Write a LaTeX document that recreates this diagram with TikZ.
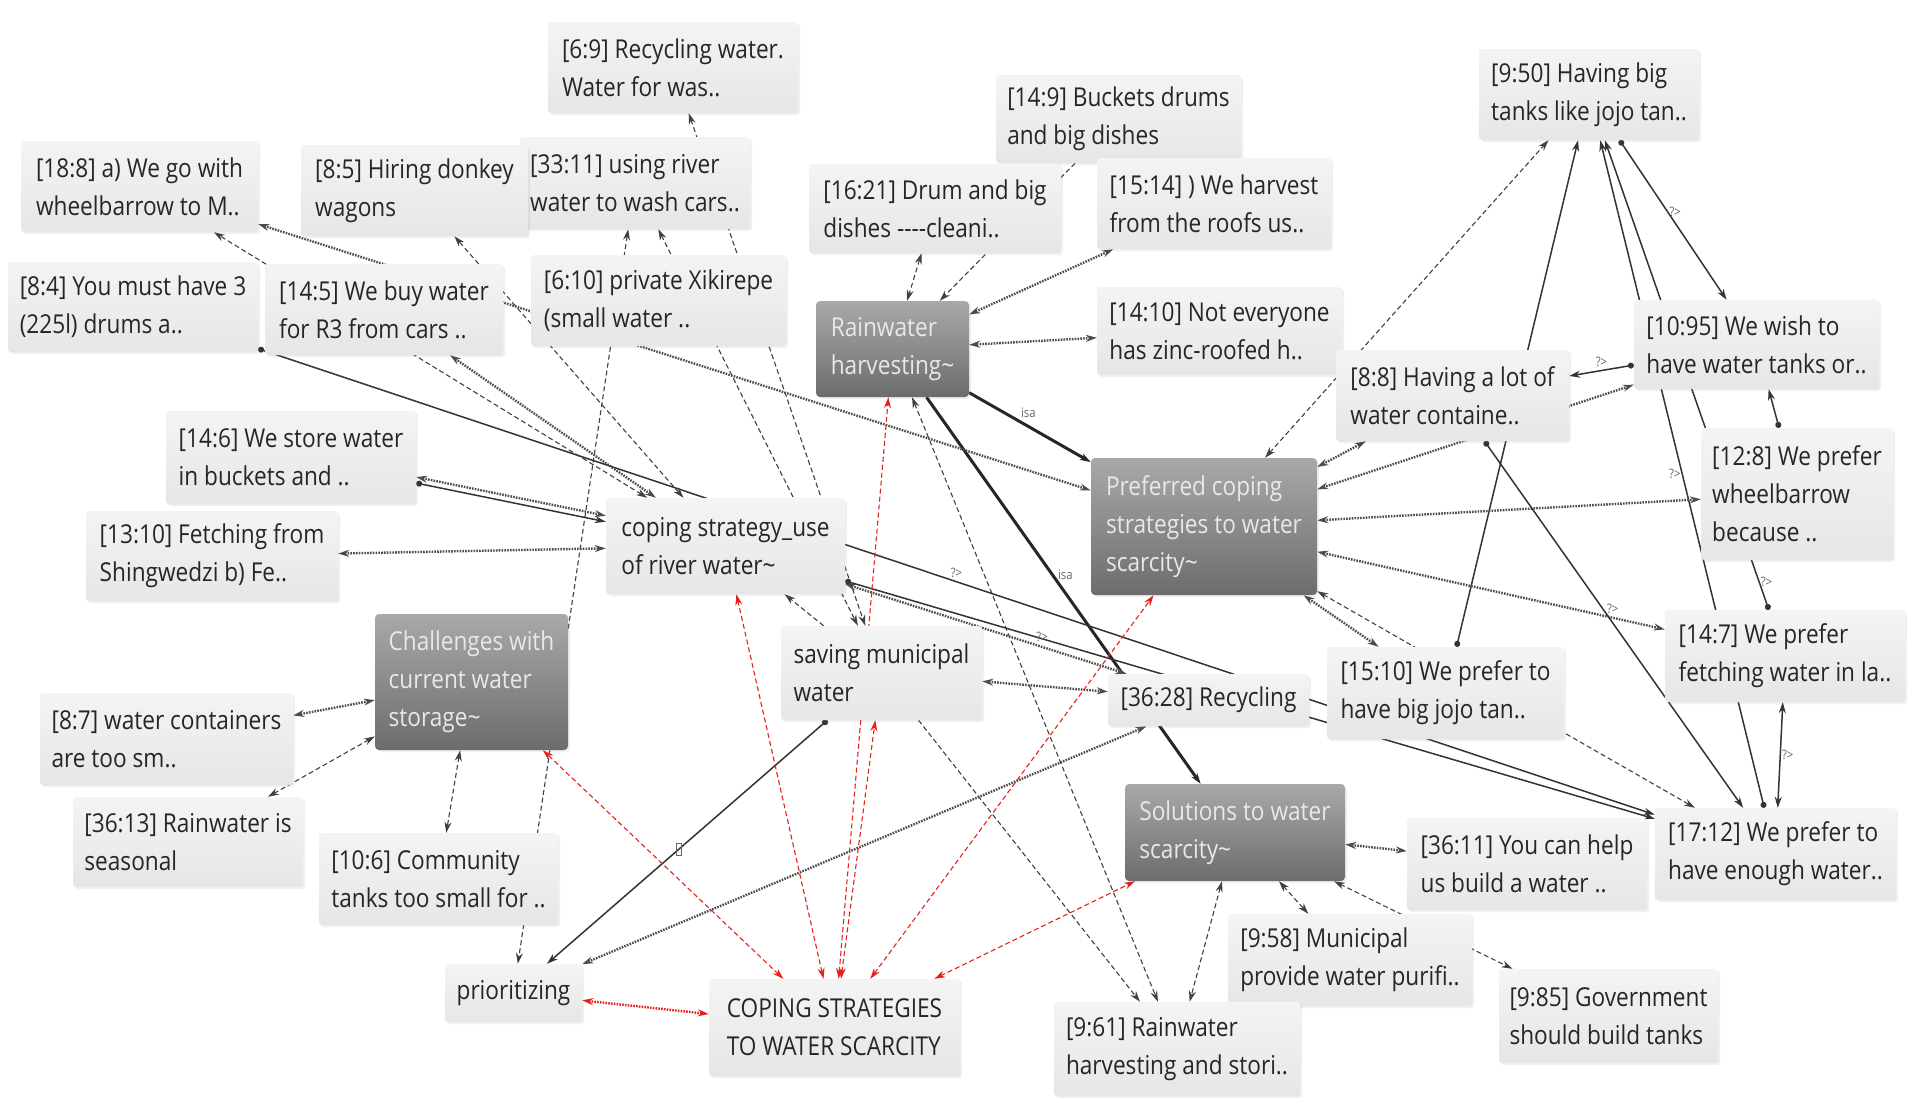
\documentclass[tikz,border=0pt]{standalone}
\usepackage{fontspec}
\setmainfont{Open Sans}[FakeStretch=0.87]
\usepackage{tikz}
\usetikzlibrary{
  arrows.meta,
  chains,
  scopes,
  shadows,
  backgrounds
}
\definecolor{quotetop}{HTML}{F4F4F4}
\definecolor{quotebot}{HTML}{E6E6E6}
\definecolor{quotetext}{HTML}{262626}
\definecolor{codetop}{HTML}{A9A9A9}
\definecolor{codebot}{HTML}{6C6C6C}
\definecolor{codetext}{HTML}{E8E8E8}
\definecolor{linkred}{HTML}{E8201C}

\begin{document}
\begin{tikzpicture}[
      x=1pt, y=-1pt,
      quotation/.style={
         rectangle,
         rounded corners=3pt,
         top color=quotetop,
         bottom color=quotebot,
         text=quotetext,
         align=left,
         inner xsep=5pt,
         font=\fontsize{26}{38}\selectfont,
         drop shadow={shadow xshift=2pt,shadow yshift=-2pt,opacity=0.12}
      },
      code/.style={
         quotation,
         top color=codetop,
         bottom color=codebot,
         text=codetext,
         rounded corners=4pt
      },
      sz/.style 2 args={minimum width=#1pt, minimum height=#2pt},
      >={Stealth[length=11pt,width=7pt]},
      link/.style={->, draw=black!75, line width=1.1pt, dash pattern=on 5pt off 3pt},
      link2/.style={link, <->},
      assoc/.style={<->, draw=black!70, line width=2.4pt, dash pattern=on 1.6pt off 1.2pt},
      rel/.style={arrows={Circle[length=6pt]-Stealth[length=11pt,width=7pt]}, draw=black!80, line width=1.5pt},
      isa/.style={->, draw=black!85, line width=3pt},
      redlink/.style={<->, draw=linkred, line width=1.1pt, dash pattern=on 5pt off 3pt},
      redassoc/.style={<->, draw=linkred, line width=2.4pt, dash pattern=on 1.6pt off 1.2pt},
      lab/.style={font=\fontsize{13}{13}\selectfont, text=black!60, inner sep=1pt},
      every join/.style={}
    ]
    \useasboundingbox (0,0) rectangle (1910,1104);

    % quotations, top row
    \node (n149) [quotation, sz={245}{88}] at (1118.5,119) {[14:9] Buckets drums\\and big dishes};
    \node (n69) [quotation, sz={250}{91}] at (673,67.5) {[6:9] Recycling water.\\Water for was..};
    \node (n188) [quotation, sz={237}{91}] at (139.5,186.5) {[18:8] a) We go with\\wheelbarrow to M..};
    \node (n3311) [quotation, sz={230}{92}] at (635,183) {[33:11] using river\\water to wash cars..};
    \node (n85) [quotation, sz={227}{91}] at (414.5,190.5) {[8:5] Hiring donkey\\wagons};
    \node (n1621) [quotation, sz={252}{89}] at (935,208.5) {[16:21] Drum and big\\dishes -{}-{}-{}-cleani..};
    \node (n1514) [quotation, sz={234}{91}] at (1214,203.5) {[15:14] ) We harvest\\from the roofs us..};
    \node (n950) [quotation, sz={220}{91}] at (1589,94.5) {[9:50] Having big\\tanks like jojo tan..};
    \node (n84) [quotation, sz={250}{90}] at (133,307) {[8:4] You must have 3\\(225l) drums a..};
    \node (n145) [quotation, sz={238}{91}] at (384,309.5) {[14:5] We buy water\\for R3 from cars ..};
    \node (n610) [quotation, sz={255}{91}] at (658.5,300.5) {[6:10] private Xikirepe\\(small water ..};
    \node (n1410) [quotation, sz={245}{88}] at (1219.5,331) {[14:10] Not everyone\\has zinc-roofed h..};
    \node (n88) [quotation, sz={233}{91}] at (1452.5,395.5) {[8:8] Having a lot of\\water containe..};
    \node (n1095) [quotation, sz={245}{89}] at (1756.5,344.5) {[10:95] We wish to\\have water tanks or..};
    \node (n146) [quotation, sz={250}{93}] at (291,457.5) {[14:6] We store water\\in buckets and ..};
    \node (n128) [quotation, sz={192}{132}] at (1797,494) {[12:8] We prefer\\wheelbarrow\\because ..};
    \node (n1310) [quotation, sz={252}{90}] at (212,556) {[13:10] Fetching from\\Shingwedzi b) Fe..};
    \node (n3628) [quotation, sz={201}{52}] at (1208.5,700) {[36:28] Recycling};
    \node (n1510) [quotation, sz={237}{92}] at (1445.5,693) {[15:10] We prefer to\\have big jojo tan..};
    \node (n147) [quotation, sz={240}{92}] at (1785,656) {[14:7] We prefer\\fetching water in la..};
    \node (n87) [quotation, sz={253}{92}] at (166.5,739) {[8:7] water containers\\are too sm..};
    \node (n3613) [quotation, sz={230}{90}] at (188,842) {[36:13] Rainwater is\\seasonal};
    \node (n106) [quotation, sz={239}{92}] at (438.5,879) {[10:6] Community\\tanks too small for ..};
    \node (n3611) [quotation, sz={240}{92}] at (1527,864) {[36:11] You can help\\us build a water ..};
    \node (n1712) [quotation, sz={241}{92}] at (1775.5,854) {[17:12] We prefer to\\have enough water..};
    \node (n958) [quotation, sz={244}{92}] at (1350,960) {[9:58] Municipal\\provide water purifi..};
    \node (n985) [quotation, sz={219}{94}] at (1608.5,1016) {[9:85] Government\\should build tanks};
    \node (n961) [quotation, sz={246}{94}] at (1177,1049) {[9:61] Rainwater\\harvesting and stori..};

    % codes
    \node (river) [quotation, sz={239}{96}] at (725.5,546) {coping strategy\_use\\of river water\textasciitilde};
    \node (saving) [quotation, sz={201}{94}] at (881.5,673) {saving municipal\\water};
    \node (prior) [quotation, sz={137}{58}] at (513.5,993) {prioritizing};
    \node (coping) [quotation, sz={251}{97}] at (834.5,1027.5) {COPING STRATEGIES\\TO WATER SCARCITY};
    \node (rain) [code, sz={153}{96}] at (892.5,349) {Rainwater\\harvesting\textasciitilde};
    \node (pref) [code, sz={226}{137}] at (1204,526.5) {Preferred coping\\strategies to water\\scarcity\textasciitilde};
    \node (chall) [code, sz={193}{136}] at (471.5,682) {Challenges with\\current water\\storage\textasciitilde};
    \node (sol) [code, sz={220}{97}] at (1235,832.5) {Solutions to water\\scarcity\textasciitilde};

  \begin{scope}[on background layer]
  % links round the codes at the top
  { [start chain]
       \chainin (n1621);
       \chainin (rain)    [join=by link2];
  }
  { [start chain]
       \chainin (n149);
       \chainin (rain)    [join=by link];
  }
  { [start chain]
       \chainin (n1514);
       \chainin (rain)    [join=by assoc];
  }
  { [start chain]
       \chainin (n1410);
       \chainin (rain)    [join=by assoc];
  }
  { [start chain]
       \chainin (rain);
       \chainin (pref)    [join=by {isa, edge node={node[lab, above right=1pt, pos=.4] {isa}}}];
  }
  { [start chain]
       \chainin (rain);
       \chainin (sol)    [join=by {isa, edge node={node[lab, right=3pt, pos=.46] {isa}}}];
  }
  { [start chain]
       \chainin (rain);
       \chainin (n961)    [join=by link2];
  }
  % right group
  { [start chain]
       \chainin (pref);
       \chainin (n950)    [join=by link2];
  }
  { [start chain]
       \chainin (n1510);
       \chainin (n950)    [join=by rel];
  }
  { [start chain]
       \chainin (n147);
       \chainin (n950)    [join=by {rel, edge node={node[lab, pos=.06, right] {?>}}}];
  }
  { [start chain]
       \chainin (n1712);
       \chainin (n950)    [join=by {rel, edge node={node[lab, pos=.5, left] {?>}}}];
  }
  { [start chain]
       \chainin (n950);
       \chainin (n1095)    [join=by {rel, edge node={node[lab, pos=.45, right] {?>}}}];
  }
  { [start chain]
       \chainin (n1095);
       \chainin (n88)    [join=by {rel, edge node={node[lab, pos=.5, above=2pt] {?>}}}];
  }
  { [start chain]
       \chainin (n128);
       \chainin (n1095)    [join=by rel];
  }
  { [start chain]
       \chainin (pref);
       \chainin (n1095)    [join=by assoc];
  }
  { [start chain]
       \chainin (pref);
       \chainin (n88)    [join=by assoc];
  }
  { [start chain]
       \chainin (pref);
       \chainin (n128)    [join=by assoc];
  }
  { [start chain]
       \chainin (pref);
       \chainin (n147)    [join=by {assoc, edge node={node[lab, pos=.85, above=2pt] {?>}}}];
  }
  { [start chain]
       \chainin (pref);
       \chainin (n1510)    [join=by assoc];
  }
  { [start chain]
       \chainin (pref);
       \chainin (n1712)    [join=by link2];
  }
  { [start chain]
       \chainin (n88);
       \chainin (n1712)    [join=by rel];
  }
  { [start chain]
       \chainin (n147);
       \chainin (n1712)    [join=by {rel, <->, edge node={node[lab, pos=.5, right] {?>}}}];
  }
  % long relations to [17:12]
  { [start chain]
       \chainin (n84);
       \chainin (n1712)    [join=by {rel, edge node={node[lab, pos=.5, above=2pt] {?>}}}];
  }
  { [start chain]
       \chainin (river);
       \chainin (n1712)    [join=by rel];
  }
  % river water and saving municipal water
  { [start chain]
       \chainin (river);
       \chainin (n3628)    [join=by {assoc, edge node={node[lab, pos=.7, above=3pt] {?>}}}];
  }
  { [start chain]
       \chainin (saving);
       \chainin (n3628)    [join=by assoc];
  }
  { [start chain]
       \chainin (saving);
       \chainin (river)    [join=by link];
  }
  { [start chain]
       \chainin (n3311);
       \chainin (saving)    [join=by link2];
  }
  { [start chain]
       \chainin (n69);
       \chainin (saving)    [join=by link2];
  }
  { [start chain]
       \chainin (n3311);
       \chainin (prior)    [join=by link2];
  }
  { [start chain]
       \chainin (pref);
       \chainin (n188)    [join=by assoc];
  }
  { [start chain]
       \chainin (river);
       \chainin (n188)    [join=by link2];
  }
  { [start chain]
       \chainin (river);
       \chainin (n85)    [join=by link2];
  }
  { [start chain]
       \chainin (n145);
       \chainin (river)    [join=by assoc];
  }
  { [start chain]
       \chainin (n146);
       \chainin (river)    [join=by rel];
  }
  { [start chain]
       \chainin (n146);
       \chainin (river)    [join=by {assoc, transform canvas={yshift=6pt}}];
  }
  { [start chain]
       \chainin (n1310);
       \chainin (river)    [join=by assoc];
  }
  % challenges
  { [start chain]
       \chainin (chall);
       \chainin (n87)    [join=by assoc];
  }
  { [start chain]
       \chainin (chall);
       \chainin (n3613)    [join=by link2];
  }
  { [start chain]
       \chainin (chall);
       \chainin (n106)    [join=by link2];
  }
  % prioritizing
  { [start chain]
       \chainin (saving);
       \chainin (prior)    [join=by {rel, edge node={node[pos=.53, draw=black!60, line width=.6pt, minimum width=5pt, minimum height=12pt, inner sep=0pt] {}}}];
  }
  { [start chain]
       \chainin (prior);
       \chainin (n3628)    [join=by assoc];
  }
  { [start chain]
       \chainin (prior);
       \chainin (coping)    [join=by redassoc];
  }
  % coping strategies
  { [start chain]
       \chainin (coping);
       \chainin (chall)    [join=by redlink];
  }
  { [start chain]
       \chainin (coping);
       \chainin (river)    [join=by redlink];
  }
  { [start chain]
       \chainin (coping);
       \chainin (saving)    [join=by redlink];
  }
  { [start chain]
       \chainin (coping);
       \chainin (rain)    [join=by redlink];
  }
  { [start chain]
       \chainin (coping);
       \chainin (pref)    [join=by redlink];
  }
  { [start chain]
       \chainin (coping);
       \chainin (sol)    [join=by redlink];
  }
  % solutions
  { [start chain]
       \chainin (sol);
       \chainin (n3611)    [join=by assoc];
  }
  { [start chain]
       \chainin (sol);
       \chainin (n958)    [join=by link2];
  }
  { [start chain]
       \chainin (sol);
       \chainin (n985)    [join=by link2];
  }
  { [start chain]
       \chainin (sol);
       \chainin (n961)    [join=by link2];
  }
  { [start chain]
       \chainin (saving);
       \chainin (n961)    [join=by link];
  }
  \end{scope}
\end{tikzpicture}
\end{document}
